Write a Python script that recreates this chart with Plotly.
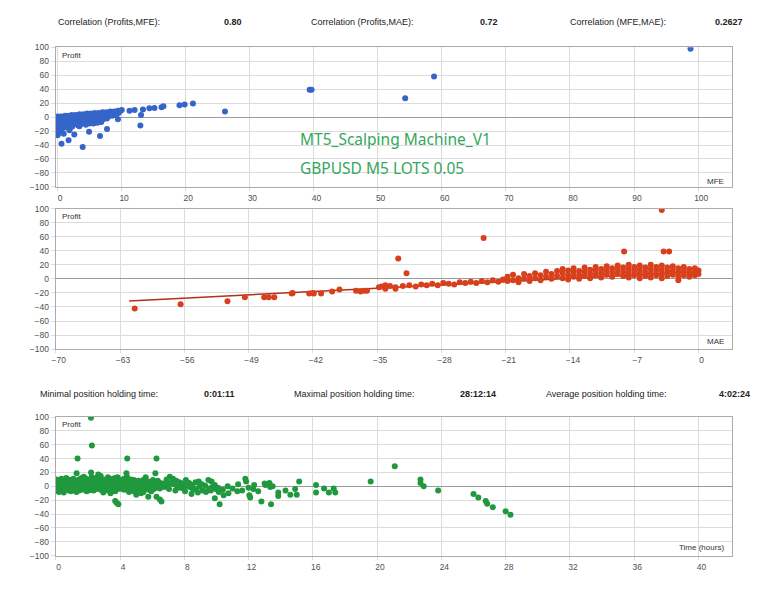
import plotly.graph_objects as go

# ---------------- data ----------------
# MFE vs Profit (points as (MFE, Profit))
mfe_points = [
    (0.05,1),(0.1,-1),(0.0,-3),(0.2,-5),(0.1,-7),(0.15,-9),(0.05,-12),(0.2,-14),(0.1,-17),(0.0,-20),(0.25,-23),(0.1,-26),
    (0.5,1),(0.4,-1),(0.6,-4),(0.45,-6),(0.55,-9),(0.7,-11),(0.4,-14),(0.6,-18),(0.5,-21),
    (0.9,1),(1.0,-2),(0.8,-4),(1.1,-7),(0.9,-10),(1.0,-13),(0.85,-16),(1.05,-24),
    (1.3,2),(1.4,0),(1.25,-3),(1.5,-5),(1.35,-8),(1.6,-12),(1.45,-15),
    (1.8,2),(1.9,0),(1.75,-2),(2.0,-5),(1.85,-8),(2.1,-11),(1.95,-19),
    (2.3,3),(2.5,1),(2.2,-1),(2.6,-4),(2.4,-7),(2.7,-10),(2.35,-14),
    (2.9,3),(3.1,1),(2.8,-2),(3.2,-5),(3.0,-8),(3.3,-12),
    (3.5,4),(3.7,2),(3.4,0),(3.8,-3),(3.6,-6),(3.9,-9),(3.5,-13),
    (4.1,4),(4.3,2),(4.0,-1),(4.4,-4),(4.2,-7),(4.5,-11),
    (4.7,5),(4.9,3),(4.6,0),(5.0,-3),(4.8,-6),(5.1,-9),
    (5.3,5),(5.5,3),(5.2,1),(5.6,-2),(5.4,-5),(5.7,-9),
    (5.9,6),(6.1,4),(5.8,1),(6.2,-2),(6.0,-5),(6.3,-8),
    (6.5,6),(6.7,4),(6.4,2),(6.8,-1),(6.6,-4),(6.9,-7),
    (7.1,7),(7.3,5),(7.0,2),(7.4,0),(7.2,-3),
    (7.7,7),(7.9,5),(7.6,3),(8.0,1),(7.8,-2),
    (8.3,8),(8.5,6),(8.2,4),(8.6,2),
    (8.9,8),(9.1,7),(8.8,5),(9.2,3),
    (9.5,9),(9.7,8),(9.6,6),(9.9,9),(10.1,10),
    (0.7,-38),(1.8,-33),(4.0,-43),(2.7,-25),(5.0,-21),(6.7,-27),(7.8,-17),(9.5,-3),
    (13.0,-12),(13.1,3),(11.3,9),(12.1,10),(13.4,11),(14.4,12.5),(15.2,13),(16.3,14),
    (16.6,15.5),(19.1,17),(19.9,18),(21.2,19.5),(26.2,8),(39.4,39),(39.7,39),
    (54.3,27),(58.8,58),(98.8,98),
]

# MAE vs Profit (points as (MAE, Profit))
mae_points = [
    (-61.4,-42),(-56.4,-36),(-51.3,-32),(-49.4,-26),(-47.3,-26),(-46.8,-26),(-46.2,-26),
    (-44.3,-21),(-44.2,-20),(-42.4,-21),(-42.0,-20),(-41.9,-21),(-41.1,-21),(-39.9,-18),
    (-39.1,-15),(-37.3,-17),(-36.8,-18),(-36.4,-17),(-36.1,-17),(-34.8,-12),(-34.1,-9),
    (-34.1,-14),(-33.0,-14),(-32.7,29),(-31.8,8),(-23.4,58),(-8.1,39),(-4.0,98),
    (-3.8,39),(-3.2,39),(-2.2,-2),
    (-34.5,-11),(-33.6,-10),(-33.0,-12),(-32.2,-10),(-31.5,-9),(-30.8,-11),(-30.2,-8),
    (-29.6,-9),(-29.0,-7),(-28.4,-9),(-27.8,-6),(-27.2,-7),(-26.6,-8),(-26.0,-5),
    (-25.4,-6),(-24.8,-4),(-24.2,-6),(-23.6,-3),(-23.0,-5),(-22.4,-2),(-21.8,-4),(-21.3,-1),
    (-20.8,3),(-20.8,-3),(-20.2,6),(-20.2,-2),(-19.6,1),(-19.6,-5),(-19.0,7),(-19.0,0),
    (-18.4,4),(-18.4,-3),(-17.8,8),(-17.8,1),(-17.2,5),(-17.2,-2),(-16.6,10),(-16.6,3),
    (-16.0,7),(-16.0,0),(-15.4,11),(-15.4,4),(-14.8,14),(-14.8,8),(-14.8,1),(-14.2,12),
    (-14.2,5),(-14.2,-1),
    (-13.6,15),(-13.6,9),(-13.6,3),(-13.0,11),(-13.0,5),(-13.0,0),(-12.4,16),(-12.4,10),
    (-12.4,4),(-11.8,13),(-11.8,7),(-11.8,1),(-11.2,17),(-11.2,11),(-11.2,5),(-10.6,14),
    (-10.6,8),(-10.6,2),(-10.0,18),(-10.0,12),(-10.0,6),(-9.4,15),(-9.4,9),(-9.4,3),
    (-8.8,19),(-8.8,13),(-8.8,7),(-8.2,16),(-8.2,10),(-8.2,4),(-7.6,20),(-7.6,14),
    (-7.6,8),(-7.6,2),(-7.0,17),(-7.0,11),(-7.0,5),(-6.4,19),(-6.4,13),(-6.4,7),(-6.4,1),
    (-5.8,16),(-5.8,10),(-5.8,4),(-5.2,20),(-5.2,14),(-5.2,8),(-5.2,2),(-4.6,17),
    (-4.6,11),(-4.6,5),(-4.0,19),(-4.0,13),(-4.0,7),(-4.0,1),(-3.4,16),(-3.4,10),
    (-3.4,4),(-2.8,18),(-2.8,12),(-2.8,6),(-2.2,15),(-2.2,9),(-2.2,3),(-1.6,17),
    (-1.6,11),(-1.6,5),(-1.0,14),(-1.0,8),(-1.0,3),(-0.4,15),(-0.4,10),(-0.4,5),
    (0.0,12),(0.0,7),
]
mae_trend_x = [-62.0, 0.0]
mae_trend_y = [-31.5, 10.0]

# Holding time (hours) vs Profit
time_points = [
    (0.05,10),(0.08,6),(0.03,2),(0.1,-2),(0.06,-6),
    (0.2,8),(0.22,4),(0.18,0),(0.25,-4),(0.2,-8),
    (0.35,11),(0.38,7),(0.33,3),(0.4,-1),(0.36,-5),
    (0.5,9),(0.53,5),(0.48,1),(0.55,-3),(0.5,-9),
    (0.65,12),(0.68,8),(0.63,4),(0.7,0),(0.66,-4),
    (0.8,10),(0.83,6),(0.78,2),(0.85,-2),(0.81,-6),
    (0.95,9),(0.98,5),(0.93,1),(1.0,-3),(0.96,-7),
    (1.1,11),(1.13,7),(1.08,3),(1.15,-1),(1.11,-5),
    (1.3,19),(1.28,8),(1.33,4),(1.26,0),(1.31,-4),(1.29,-8),
    (1.45,10),(1.48,6),(1.43,2),(1.5,-2),(1.46,-6),
    (1.6,12),(1.63,7),(1.58,3),(1.65,-1),(1.61,-5),
    (1.75,14),(1.78,9),(1.73,5),(1.8,1),(1.76,-3),
    (1.9,11),(1.93,6),(1.88,2),(1.95,-2),(1.91,-7),
    (2.05,9),(2.08,5),(2.03,1),(2.1,-3),(2.06,-6),
    (2.2,20),(2.23,13),(2.18,7),(2.25,3),(2.21,-1),(2.19,-5),
    (2.35,10),(2.38,6),(2.33,2),(2.4,-2),(2.36,-6),
    (2.5,12),(2.53,8),(2.48,4),(2.55,0),(2.51,-4),
    (2.65,17),(2.68,9),(2.63,5),(2.7,1),(2.66,-3),
    (2.8,15),(2.83,11),(2.78,7),(2.85,3),(2.81,-1),(2.79,-5),
    (2.95,8),(2.98,4),(2.93,0),(3.0,-4),(2.96,-9),
    (3.1,10),(3.13,6),(3.08,2),(3.15,-2),
    (3.25,13),(3.28,7),(3.23,3),(3.3,-1),(3.26,-6),
    (3.4,9),(3.43,5),(3.38,1),(3.45,-3),(3.41,-10),
    (3.55,11),(3.58,7),(3.53,3),(3.6,-1),(3.56,-5),
    (3.7,12),(3.73,6),(3.68,2),(3.75,-2),(3.71,-7),
    (3.85,13),(3.88,8),(3.83,4),(3.9,0),(3.86,-4),
    (3.95,10),(3.98,5),(3.93,1),(4.0,-3),
    (4.1,8),(4.13,4),(4.08,0),(4.15,-4),
    (4.25,11),(4.28,7),(4.23,3),(4.3,-1),(4.26,-5),
    (4.4,19),(4.43,14),(4.38,9),(4.45,5),(4.41,1),(4.39,-3),
    (4.55,8),(4.58,4),(4.53,0),(4.6,-4),(4.56,-8),
    (4.7,10),(4.73,6),(4.68,2),(4.75,-2),(4.71,-6),
    (4.85,9),(4.88,5),(4.83,1),(4.9,-3),(4.86,-7),
    (5.0,7),(5.03,3),(4.98,-1),(5.05,-5),(5.01,-12),
    (5.15,8),(5.18,4),(5.13,0),(5.2,-4),
    (5.3,6),(5.33,2),(5.28,-2),(5.35,-6),(5.31,-10),
    (5.45,9),(5.48,5),(5.43,1),(5.5,-3),(5.46,-8),
    (5.6,13),(5.63,4),(5.58,0),(5.65,-4),
    (5.75,7),(5.78,3),(5.73,-1),(5.8,-5),(5.76,-15),
    (5.9,5),(5.93,1),(5.88,-3),(5.95,-7),
    (6.05,9),(6.08,4),(6.03,0),(6.1,-4),
    (6.2,19),(6.23,6),(6.18,2),(6.25,-2),
    (6.35,8),(6.38,3),(6.33,-1),
    (6.5,5),(6.53,1),(6.48,-3),
    (6.7,4),(6.75,-1),(6.9,10),(6.95,2),(7.1,14),(7.15,5),(7.05,-4),(7.3,11),(7.35,3),
    (7.5,8),(7.55,0),(7.45,-6),(7.7,6),(7.75,-2),(7.9,4),(7.95,-3),(8.1,9),(8.15,1),
    (8.05,-7),(8.3,5),(8.35,-1),(8.5,2),(8.55,-5),(8.45,-11),(8.7,6),(8.75,-4),(8.9,7),
    (8.95,0),(8.85,-9),(9.1,3),(9.15,-6),(9.3,1),(9.35,-8),(9.5,9),(9.55,-3),(9.7,7),
    (9.75,-1),(9.65,-6),(9.9,2),(9.95,-4),(10.1,-2),(10.15,-8),(10.4,-5),(10.45,-13),
    (10.7,0),(10.75,-10),(11.0,-3),(11.3,-7),(11.35,3),(11.6,-6),(11.8,11),(11.85,7),
    (12.0,-2),(12.05,-13),(12.1,-16),(12.3,-4),(12.35,2),(12.6,-7),(13.0,4),(13.05,2),
    (13.3,5),(13.35,-1),(13.5,0),
    (2.19,99),(2.25,59),(1.36,40),(4.45,40),(6.27,40),(3.9,-26),(3.8,-24),(3.7,-21),
    (6.27,-15),(6.48,-19),(6.58,-22),(10.2,-26),(12.8,-22),(13.4,-26),(9.9,-17),
    (15.15,7),(16.2,2),(16.2,-9),(16.7,-3),(17.0,-9),(17.3,-3),(17.4,-9),(19.6,7),
    (13.85,-9),(13.85,-14),(14.3,-6),(14.6,-12),(14.9,-4),(15.0,-12),(21.1,29),
    (22.7,10),(22.7,5),(22.9,0),(23.8,-6),(26.0,-11),(26.3,-16),(26.76,-21),
    (26.85,-25),(27.2,-30),(28.0,-36),(28.3,-41),
]

mfe_ticks = [0, 10, 20, 30, 40, 50, 60, 70, 80, 90, 100]
mae_ticks = [-70, -63, -56, -49, -42, -35, -28, -21, -14, -7, 0]
time_ticks = [0, 4, 8, 12, 16, 20, 24, 28, 32, 36, 40]
profit_ticks = [-100, -80, -60, -40, -20, 0, 20, 40, 60, 80, 100]

header_top = [("Correlation (Profits,MFE):", "0.80"),
              ("Correlation (Profits,MAE):", "0.72"),
              ("Correlation (MFE,MAE):", "0.2627")]
header_time = [("Minimal position holding time:", "0:01:11"),
               ("Maximal position holding time:", "28:12:14"),
               ("Average position holding time:", "4:02:24")]

# ---------------- figure ----------------
W, H = 771, 600
def fx(p): return p / W
def fy(p): return 1 - p / H

BLUE, RED, GREEN = "#3565c8", "#d8401c", "#20993e"
TREND = "#b3301a"
FONT = "Liberation Sans"
MS = 6

fig = go.Figure()
fig.add_trace(go.Scatter(x=[p[0] for p in mfe_points], y=[p[1] for p in mfe_points],
                         mode="markers", marker=dict(color=BLUE, size=MS, line=dict(width=0)),
                         xaxis="x", yaxis="y", showlegend=False))
fig.add_trace(go.Scatter(x=mae_trend_x, y=mae_trend_y, mode="lines",
                         line=dict(color=TREND, width=1.5),
                         xaxis="x2", yaxis="y2", showlegend=False))
fig.add_trace(go.Scatter(x=[p[0] for p in mae_points], y=[p[1] for p in mae_points],
                         mode="markers", marker=dict(color=RED, size=MS, line=dict(width=0)),
                         xaxis="x2", yaxis="y2", showlegend=False))
fig.add_trace(go.Scatter(x=[p[0] for p in time_points], y=[p[1] for p in time_points],
                         mode="markers", marker=dict(color=GREEN, size=MS, line=dict(width=0)),
                         xaxis="x3", yaxis="y3", showlegend=False))

GRID = "#dcdcdc"
BORDER = "#ababab"
tickfont = dict(family=FONT, size=8.5, color="#505050")

def xaxis(anchor, rng, ticks):
    return dict(domain=[fx(52), fx(732)], anchor=anchor, range=rng, tickvals=ticks,
                showgrid=True, gridcolor=GRID, gridwidth=1, zeroline=False,
                showline=True, mirror=True, linecolor=BORDER, linewidth=1,
                ticks="outside", ticklen=3, tickcolor=GRID, tickfont=tickfont,
                ticklabelshift=3, fixedrange=True)

def yaxis(anchor, top, bottom):
    return dict(domain=[fy(bottom), fy(top)], anchor=anchor, range=[-100, 100],
                tickvals=profit_ticks, showgrid=True, gridcolor=GRID, gridwidth=1,
                zeroline=True, zerolinecolor="#9a9a9a", zerolinewidth=1,
                showline=True, mirror=True, linecolor=BORDER, linewidth=1,
                ticks="outside", ticklen=4, tickcolor=GRID, tickfont=tickfont,
                fixedrange=True)

fig.update_layout(
    width=W, height=H, margin=dict(l=0, r=0, t=0, b=0),
    paper_bgcolor="white", plot_bgcolor="white",
    font=dict(family=FONT, size=9, color="#222"),
    xaxis=xaxis("y", [-0.2, 105.3], mfe_ticks),
    yaxis=yaxis("x", 43, 185),
    xaxis2=xaxis("y2", [-70, 3.67], mae_ticks),
    yaxis2=yaxis("x2", 207, 350),
    xaxis3=xaxis("y3", [0, 42.1], time_ticks),
    yaxis3=yaxis("x3", 419, 560),
)

ann = []
def text(x, y, s, anchor="left", size=9, color="#222", bold=False, family=FONT):
    ann.append(dict(x=fx(x), y=fy(y), xref="paper", yref="paper", text=("<b>%s</b>" % s) if bold else s,
                    showarrow=False, xanchor=anchor, yanchor="middle",
                    font=dict(family=family, size=size, color=color)))

# headers
for (lab, val), lx, vx in zip(header_top, [52, 307, 567], [241, 499, 745]):
    text(lx, 17, lab)
    text(vx, 17, val, anchor="right", bold=True)
for (lab, val), lx, vx in zip(header_time, [34, 289, 543], [234, 497, 752]):
    text(lx, 396, lab)
    text(vx, 396, val, anchor="right", bold=True)

# in-plot axis titles
for yy in [51, 215, 427]:
    text(56, yy, "Profit", size=8, color="#333")
text(726, 179, "MFE", anchor="right", size=8, color="#333")
text(726, 342, "MAE", anchor="right", size=8, color="#333")
text(726, 552, "Time (hours)", anchor="right", size=8, color="#333")

# watermark text
text(296, 136, "MT5_Scalping Machine_V1", size=15.5, color="#35a85b", family="Noto Sans")
text(296, 166, "GBPUSD M5 LOTS 0.05", size=15.5, color="#35a85b", family="Noto Sans")

fig.update_layout(annotations=ann)
fig.write_html("out.html")
